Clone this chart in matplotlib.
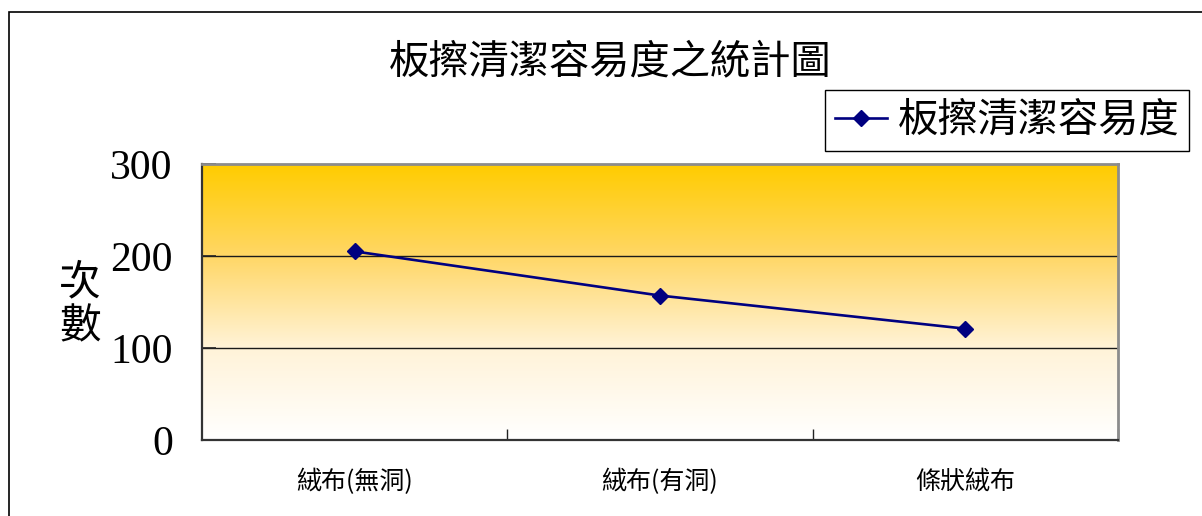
import numpy as np
import matplotlib
matplotlib.use("Agg")
import matplotlib.pyplot as plt
from matplotlib.colors import LinearSegmentedColormap
from matplotlib.patches import Rectangle
from matplotlib.ticker import FixedLocator, NullFormatter

plt.rcParams['font.family'] = ['Noto Sans CJK TC', 'DejaVu Sans']

# 資料
categories = ['絨布(無洞)', '絨布(有洞)', '條狀絨布']
counts = [205, 157, 121]
series_name = '板擦清潔容易度'
title = '板擦清潔容易度之統計圖'
y_label = '次\n數'
y_ticks = [0, 100, 200, 300]

W, H = 1202, 516
fig = plt.figure(figsize=(W / 100, H / 100), dpi=100)
fig.patch.set_facecolor('white')

# 外框
fig.patches.append(Rectangle((9 / W, -0.1), 1.2, (516 - 12) / H + 0.1,
                             transform=fig.transFigure, fill=False,
                             edgecolor='black', linewidth=1.2))

ax = fig.add_axes([202 / W, (516 - 440) / H, 916 / W, 276 / H])
x = np.arange(len(categories))

# 漸層背景
cmap = LinearSegmentedColormap.from_list('gold', ['#FFFFFF', '#FFF3D8', '#FFD766', '#FFCC00'])
grad = np.linspace(0, 1, 256).reshape(-1, 1)
ax.imshow(grad, cmap=cmap, origin='lower', aspect='auto',
          extent=(-0.5, 2.5, 0, 300), zorder=0)

for v in y_ticks[1:-1]:
    ax.axhline(v, color='#1a1a1a', linewidth=1.0, zorder=1)

ax.plot(x, counts, color='#000080', linewidth=1.9, marker='D',
        markersize=8, markerfacecolor='#000080', markeredgecolor='#000080',
        label=series_name, zorder=3)

ax.set_xlim(-0.5, 2.5)
ax.set_ylim(0, 300)

ax.set_yticks(y_ticks)
ax.set_yticklabels([str(v) for v in y_ticks], family='Liberation Serif', fontsize=30)
ax.tick_params(axis='y', direction='in', length=10, width=1.2, pad=21, colors='#222222', labelcolor='black')

ax.xaxis.set_major_locator(FixedLocator([0.5, 1.5, 2.5]))
ax.xaxis.set_major_formatter(NullFormatter())
ax.xaxis.set_minor_locator(FixedLocator(x))
ax.set_xticklabels(categories, minor=True, fontsize=18)
ax.tick_params(axis='x', which='major', direction='in', length=8, width=1.0, colors='#222222')
ax.tick_params(axis='x', which='minor', length=0, pad=21)

for s in ['left', 'bottom']:
    ax.spines[s].set_color('#333333')
    ax.spines[s].set_linewidth(1.6)
for s in ['top', 'right']:
    ax.spines[s].set_color('#8c8c8c')
    ax.spines[s].set_linewidth(2.0)

fig.text(610 / W, 1 - 62 / H, title, ha='center', va='center', fontsize=29)
fig.text(80 / W, 1 - 305 / H, y_label, ha='center', va='center', fontsize=30, linespacing=1.1)

leg = ax.legend(loc='upper left', bbox_to_anchor=(825 / W, 1 - 90 / H),
                bbox_transform=fig.transFigure, fontsize=29, frameon=True,
                fancybox=False, edgecolor='black', framealpha=1,
                borderpad=0.25, handlelength=1.3, handletextpad=0.25,
                borderaxespad=0)
leg.get_frame().set_linewidth(1.0)

fig.savefig('out.png', dpi=100)
